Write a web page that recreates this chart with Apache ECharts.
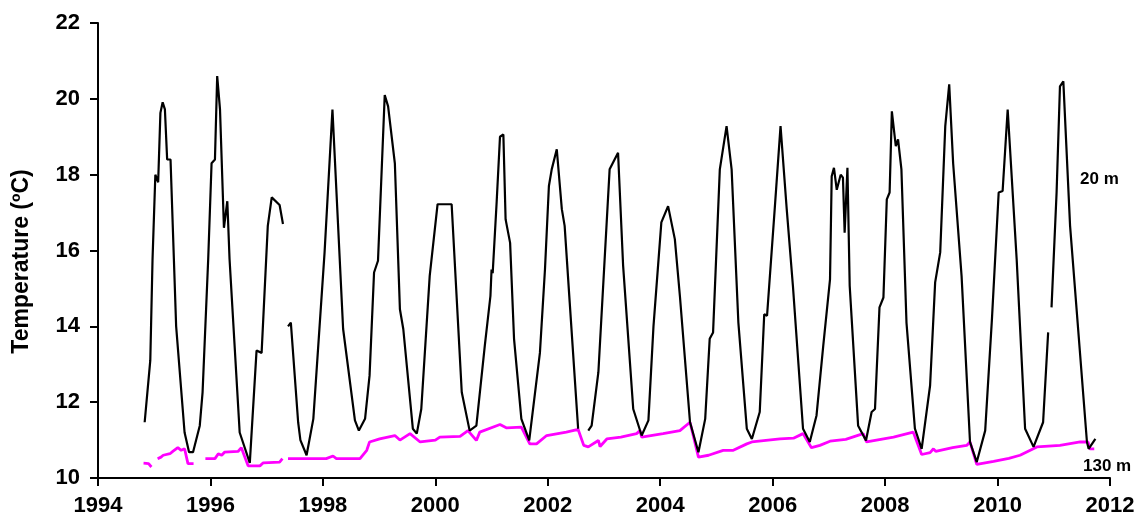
<!DOCTYPE html>
<html><head><meta charset="utf-8">
<script src="https://cdn.jsdelivr.net/npm/echarts@6/dist/echarts.min.js"></script>
<style>html,body{margin:0;padding:0;background:#fff}#c{width:1139px;height:517px}</style>
</head><body><div id="c"></div>
<script>
// [decimal year, temperature °C]; '-' marks a gap in the record
const temp20m = [
[1994.83,11.47],[1994.93,13.1],[1994.97,15.77],[1995.02,18.0],[1995.07,17.8],[1995.11,19.63],[1995.15,19.91],[1995.19,19.72],[1995.23,18.4],[1995.29,18.4],[1995.39,14.0],[1995.54,11.2],[1995.62,10.68],[1995.69,10.68],[1995.81,11.38],[1995.86,12.26],[1995.96,15.77],[1996.02,18.3],[1996.08,18.4],[1996.12,20.6],[1996.17,19.72],[1996.24,16.6],[1996.30,17.3],[1996.34,15.77],[1996.52,11.2],[1996.70,10.4],[1996.82,13.36],[1996.91,13.3],[1997.02,16.65],[1997.09,17.4],[1997.23,17.2],[1997.29,16.7],
[1997.33,'-'],
[1997.38,14.0],[1997.43,14.1],[1997.56,11.47],[1997.60,11.0],[1997.71,10.6],[1997.83,11.56],[1998.03,15.95],[1998.17,19.72],[1998.21,18.5],[1998.36,13.93],[1998.57,11.52],[1998.64,11.25],[1998.75,11.56],[1998.83,12.7],[1998.91,15.42],[1998.98,15.73],[1999.10,20.1],[1999.16,19.8],[1999.28,18.3],[1999.37,14.45],[1999.43,13.93],[1999.60,11.3],[1999.67,11.17],[1999.75,11.82],[1999.90,15.33],[2000.04,17.22],[2000.29,17.22],[2000.47,12.26],[2000.61,11.25],[2000.73,11.38],[2000.88,13.49],[2000.98,14.8],[2001.00,15.5],[2001.02,15.4],[2001.09,17.26],[2001.15,19.0],[2001.21,19.06],[2001.25,16.82],[2001.33,16.2],[2001.40,13.67],[2001.53,11.56],[2001.67,10.99],[2001.86,13.3],[2001.95,15.5],[2002.02,17.7],[2002.07,18.14],[2002.16,18.67],[2002.25,17.09],[2002.30,16.65],[2002.39,14.63],[2002.54,11.3],
[2002.63,'-'],
[2002.72,11.25],[2002.78,11.38],[2002.90,12.79],[2003.10,18.14],[2003.25,18.58],[2003.34,15.6],[2003.52,11.82],[2003.67,11.12],[2003.79,11.52],[2003.88,14.0],[2004.02,16.74],[2004.14,17.17],[2004.26,16.3],[2004.35,14.8],[2004.53,11.47],[2004.68,10.68],[2004.80,11.56],[2004.88,13.67],[2004.94,13.84],[2005.06,18.14],[2005.18,19.28],[2005.27,18.14],[2005.39,14.1],[2005.54,11.3],[2005.63,11.03],[2005.77,11.74],[2005.85,14.32],[2005.90,14.28],[2006.04,17.17],[2006.14,19.28],[2006.25,17.09],[2006.36,15.07],[2006.54,11.3],[2006.66,10.95],[2006.78,11.65],[2006.90,13.49],[2007.02,15.24],[2007.05,17.96],[2007.09,18.18],[2007.14,17.6],[2007.21,18.0],[2007.25,17.92],[2007.28,16.47],[2007.33,18.18],[2007.37,15.07],[2007.52,11.38],[2007.66,10.99],[2007.76,11.74],[2007.82,11.82],[2007.90,14.5],[2007.97,14.76],[2008.03,17.35],[2008.08,17.53],[2008.12,19.67],[2008.19,18.75],[2008.23,18.93],[2008.29,18.14],[2008.38,14.1],[2008.53,11.3],[2008.65,10.77],[2008.80,12.44],[2008.89,15.16],[2008.98,15.95],[2009.07,19.28],[2009.14,20.38],[2009.21,18.3],[2009.36,15.33],[2009.51,10.95],[2009.63,10.42],[2009.78,11.25],[2009.90,14.19],[2010.02,17.53],[2010.09,17.57],[2010.18,19.72],[2010.34,15.77],[2010.49,11.3],[2010.64,10.82],[2010.81,11.47],[2010.90,13.84],
[2010.93,'-'],
[2010.96,14.5],[2011.05,17.53],[2011.11,20.33],[2011.17,20.46],[2011.29,16.65],[2011.59,10.95],[2011.62,10.77],[2011.74,11.03]
];
const temp130m = [
[1994.81,10.39],[1994.90,10.38],[1994.95,10.29],
[1995.00,'-'],
[1995.06,10.51],[1995.12,10.55],[1995.16,10.6],[1995.28,10.64],[1995.33,10.7],[1995.42,10.8],[1995.48,10.73],[1995.54,10.77],[1995.60,10.38],[1995.70,10.38],
[1995.80,'-'],
[1995.91,10.51],[1996.08,10.51],[1996.14,10.64],[1996.20,10.6],[1996.25,10.68],[1996.49,10.7],[1996.55,10.8],[1996.67,10.32],[1996.88,10.32],[1996.94,10.4],[1997.23,10.42],[1997.28,10.51],
[1997.33,'-'],
[1997.38,10.51],[1998.06,10.51],[1998.18,10.58],[1998.24,10.51],[1998.66,10.51],[1998.78,10.73],[1998.83,10.95],[1999.01,11.03],[1999.28,11.12],[1999.37,11.0],[1999.55,11.17],[1999.73,10.95],[2000.00,11.0],[2000.08,11.08],[2000.44,11.1],[2000.58,11.25],[2000.73,10.99],[2000.79,11.21],[2001.15,11.41],[2001.27,11.32],[2001.53,11.34],[2001.68,10.9],[2001.80,10.9],[2001.98,11.12],[2002.33,11.21],[2002.54,11.28],[2002.64,10.86],[2002.72,10.82],[2002.90,10.99],[2002.93,10.83],[2003.05,11.03],[2003.30,11.08],[2003.58,11.17],[2003.64,11.25],[2003.67,11.08],[2004.05,11.17],[2004.35,11.25],[2004.53,11.47],[2004.68,10.55],[2004.86,10.6],[2005.12,10.73],[2005.30,10.73],[2005.54,10.9],[2005.63,10.95],[2006.13,11.03],[2006.37,11.05],[2006.54,11.17],[2006.69,10.8],[2006.84,10.86],[2007.02,10.97],[2007.30,11.02],[2007.61,11.17],[2007.67,10.95],[2008.15,11.08],[2008.50,11.21],[2008.65,10.62],[2008.80,10.67],[2008.86,10.77],[2008.90,10.7],[2009.20,10.8],[2009.45,10.86],[2009.51,10.95],[2009.63,10.36],[2009.93,10.44],[2010.20,10.52],[2010.40,10.6],[2010.70,10.82],[2011.11,10.86],[2011.47,10.95],[2011.61,10.95],[2011.64,10.77],[2011.72,10.77]
];
const seriesNames = ['20 m', '130 m'];
const yAxisTitle = 'Temperature (ºC)';

const chart = echarts.init(document.getElementById('c'), null, {renderer: 'canvas'});
const fontFam = '"Liberation Sans", Arial, sans-serif';
chart.setOption({
  animation: false,
  backgroundColor: '#fff',
  grid: {left: 98, right: 29, top: 23, bottom: 38},
  xAxis: {
    type: 'value', min: 1994, max: 2012, interval: 2,
    splitLine: {show: false},
    axisLine: {lineStyle: {color: '#000', width: 2}},
    axisTick: {show: true, length: 8, lineStyle: {color: '#000', width: 2}},
    axisLabel: {color: '#000', fontFamily: fontFam, fontWeight: 'bold', fontSize: 22, margin: 17,
      formatter: v => String(v)}
  },
  yAxis: {
    type: 'value', min: 10, max: 22, interval: 2,
    name: yAxisTitle, nameLocation: 'middle', nameGap: 65, nameRotate: 90,
    nameTextStyle: {color: '#000', fontFamily: fontFam, fontWeight: 'bold', fontSize: 23, padding: [0, 22, 0, 0]},
    splitLine: {show: false},
    axisLine: {show: true, lineStyle: {color: '#000', width: 2}},
    axisTick: {show: true, length: 8, lineStyle: {color: '#000', width: 2}},
    axisLabel: {color: '#000', fontFamily: fontFam, fontWeight: 'bold', fontSize: 22, margin: 18}
  },
  series: [
    {name: seriesNames[0], type: 'line', data: temp20m, showSymbol: false, symbol: 'none',
     connectNulls: false, lineStyle: {color: '#000', width: 2.2}, z: 3},
    {name: seriesNames[1], type: 'line', data: temp130m, showSymbol: false, symbol: 'none',
     connectNulls: false, lineStyle: {color: '#ff00ff', width: 2.8}, z: 2}
  ],
  graphic: [
    {type: 'text', left: 1080, top: 171, style: {text: seriesNames[0], fill: '#000', font: 'bold 17px ' + fontFam}},
    {type: 'text', left: 1083, top: 458, style: {text: seriesNames[1], fill: '#000', font: 'bold 17px ' + fontFam}}
  ]
});
</script></body></html>
